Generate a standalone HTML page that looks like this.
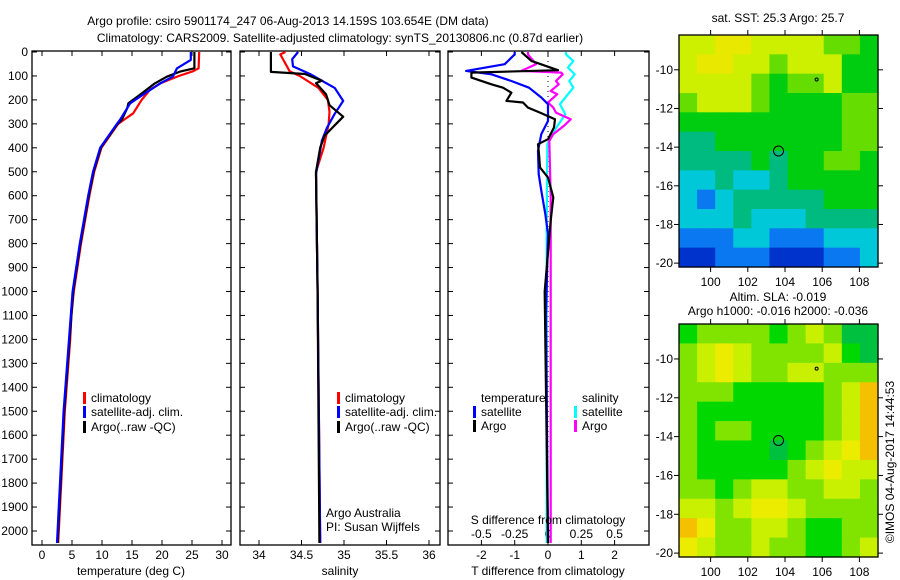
<!DOCTYPE html>
<html><head><meta charset="utf-8"><style>
html,body{margin:0;padding:0;background:#fff;}
svg{display:block;font-family:"Liberation Sans",sans-serif;font-size:12px;}
</style></head><body>
<svg id="chart" width="900" height="580" viewBox="0 0 900 580" xmlns="http://www.w3.org/2000/svg">
<rect width="900" height="580" fill="#fff"/>
<text x="288" y="25" text-anchor="middle">Argo profile: csiro 5901174_247 06-Aug-2013 14.159S 103.654E (DM data)</text>
<text x="340" y="42" text-anchor="middle">Climatology: CARS2009. Satellite-adjusted climatology: synTS_20130806.nc (0.87d earlier)</text>
<g id="g1"></g>
<g id="g2"></g>
<g id="g3"></g>
<g id="m1"></g>
<g id="m2"></g>
<text x="778" y="22" text-anchor="middle">sat. SST: 25.3 Argo: 25.7</text>
<text x="778" y="301" text-anchor="middle">Altim. SLA: -0.019</text>
<text x="778" y="315" text-anchor="middle">Argo h1000: -0.016 h2000: -0.036</text>
<text x="0" y="0" transform="translate(894,462) rotate(-90)" text-anchor="middle">©IMOS 04-Aug-2017 14:44:53</text>
<text x="326" y="517">Argo Australia</text>
<text x="326" y="531">PI: Susan Wijffels</text>
</svg>
<script>
// ---- data ----
const depthTicks=[0,100,200,300,400,500,600,700,800,900,1000,1100,1200,1300,1400,1500,1600,1700,1800,1900,2000];
const tempTicks=[0,5,10,15,20,25,30];
const salTicks=[34,34.5,35,35.5,36];
const salTickLabels=["34","34.5","35","35.5","36"];
const tdiffTicks=[-2,-1,0,1,2];
const sdiffTicks=[-0.5,-0.25,0,0.25,0.5];
const sdiffTickLabels=["-0.5","-0.25","0","0.25","0.5"];
const tClimD=[0,68,80,100,130,158,200,256,300,400,500,600,700,800,900,1000,1100,1200,1500,1800,2050];
const tClimV=[26.2,26.1,25.2,22.8,19.8,18,16.6,15.2,12.7,9.9,8.7,7.9,7.2,6.5,5.9,5.3,4.9,4.7,3.8,3.2,2.7];
const tSatD=[0,33,68,103,131,172,214,283,300,400,500,600,700,800,900,1000,1100,1200,1500,1800,2050];
const tSatV=[24.8,24.8,22.5,21.8,19.7,17.2,14.7,13,12.5,9.7,8.5,7.7,7.0,6.3,5.7,5.1,4.8,4.5,3.6,3.0,2.5];
const tArgoD=[0,68,82,103,131,179,214,235,283,300,400,500,600,700,800,900,1000,1100,1200,1500,1800,2050];
const tArgoV=[25.4,25.4,23,20.8,18.8,16.3,14.4,14.2,13.3,12.6,9.8,8.6,7.8,7.1,6.4,5.8,5.2,4.9,4.6,3.7,3.1,2.6];
const sClimD=[0,10,80,100,150,200,250,300,400,500,1000,2050];
const sClimV=[34.31,34.25,34.36,34.48,34.7,34.81,34.83,34.82,34.76,34.67,34.69,34.72];
const sSatD=[0,30,60,92,150,204,258,316,370,510,1000,2050];
const sSatV=[34.46,34.39,34.4,34.6,34.89,34.99,34.89,34.8,34.74,34.67,34.69,34.72];
const sArgoD=[0,83,92,120,130,177,222,270,306,350,400,500,1000,2050];
const sArgoV=[34.14,34.14,34.54,34.74,34.67,34.79,34.83,34.99,34.89,34.77,34.72,34.67,34.69,34.71];
const dTSatD=[0,10,51,79,93,121,149,190,218,288,343,413,510,579,676,760,1100,2050];
const dTSatV=[-1.0,-1.0,-1.3,-2.46,-1.7,-1.1,-0.57,-0.2,0,0,-0.2,-0.3,-0.28,-0.2,-0.08,0,-0.06,0];
const dTArgoD=[0,37,76,86,107,135,149,170,204,211,232,253,281,315,364,385,426,482,524,607,704,1000,2050];
const dTArgoV=[-0.8,-0.5,0.3,-2.3,-2.3,-1.7,-1.35,-1.1,-1.25,-0.75,-0.6,-0.24,0.21,0.18,0,-0.3,-0.27,-0.24,0,0.16,0.08,-0.1,0];
const dSSatD=[0,10,37,65,93,121,149,190,218,260,301,343,385,700,2050];
const dSSatV=[0.135,0.135,0.19,0.15,0.2,0.16,0.19,0.13,0.09,0.13,0.08,0.03,-0.005,-0.01,-0.01];
const dSArgoD=[0,10,51,79,86,93,121,135,163,176,211,232,253,281,308,343,371,600,2050];
const dSArgoV=[-0.15,-0.15,-0.09,-0.2,0.1,0.11,0.06,0.08,0.02,0.07,0,0.04,0.06,0.17,0.12,0.04,0.01,0.02,0.02];
const sstGrid=["yyooyyyyllg","yooyylyyygg","yyyylgllygg","lyyylggggll","gggggggggll","ttgggggggll","ttttgtggllg","cctcctggggg","cbctttttggg","ccctccctttt","bbbccbbbccc","BBbbbBBBbbc"];
const slaGrid=["gllllglylGG","lyYyllllygG","lyYyllyylll","lllggggglyo","lggggggglyo","lgllgggglyo","lggggGglyYo","lggggglyYyy","llglyyllyyl","yylyYYyllll","oYllyylggll","Yyllyllggly"];
const sstColors={B:"#0033cc",b:"#0a78f0",c:"#00c8d8",t:"#00bb80",g:"#00cc10",l:"#66dd00",y:"#ccf000",o:"#e8e800"};
const slaColors={g:"#00d800",G:"#00c040",l:"#80e400",y:"#c8f000",Y:"#ecec00",o:"#f4c000"};
const argoPos=[103.65,-14.2];
const otherPos=[105.7,-10.5];
const latTicks=[-10,-12,-14,-16,-18,-20];
const lonTicks=[100,102,104,106,108];

// ---- helpers ----
const NS="http://www.w3.org/2000/svg";
function el(parent,tag,attrs,text){const e=document.createElementNS(NS,tag);for(const k in attrs)e.setAttribute(k,attrs[k]);if(text!==undefined)e.textContent=text;parent.appendChild(e);return e;}
const yD=d=>52+0.2395*d;
const xT=t=>42+6*t;
const xS=s=>259+85*(s-34);
const xDT=t=>548+33.3*t;
const xDS=s=>548+133.3*s;
const TOP=51,BOT=545;

function frame(g,x0,x1,name,labelDepth){
  const r=el(g,"rect",{x:x0,y:TOP,width:x1-x0,height:BOT-TOP,fill:"none",stroke:"#000","stroke-width":1.3});
  
  
  depthTicks.forEach(d=>{
    const t1=el(g,"line",{x1:x0,x2:x0+5,y1:yD(d),y2:yD(d),stroke:"#000"});
    
    
    const t2=el(g,"line",{x1:x1-5,x2:x1,y1:yD(d),y2:yD(d),stroke:"#000"});
    
    
    if(labelDepth){
      const lb=el(g,"text",{x:x0-4,y:yD(d)+4,"text-anchor":"end"},String(d));
      
      
    }
  });
}
function xticks(g,vals,labels,fx,ly,name){
  vals.forEach((v,i)=>{
    const x=fx(v);
    const a=el(g,"line",{x1:x,x2:x,y1:BOT-5,y2:BOT,stroke:"#000"});
    
    
    const b=el(g,"line",{x1:x,x2:x,y1:TOP,y2:TOP+5,stroke:"#000"});
    
    
    const t=el(g,"text",{x:x,y:ly,"text-anchor":"middle"},labels[i]);
    
    
  });
}
function line(g,D,V,fx,color,name){
  const pts=D.map((d,i)=>fx(V[i]).toFixed(1)+","+yD(d).toFixed(1)).join(" ");
  const p=el(g,"polyline",{points:pts,fill:"none",stroke:color,"stroke-width":2.2,"stroke-linejoin":"round"});
  
  
}
function legend(g,x,y,color,text,name){
  if(color){const m=el(g,"rect",{x:x-8,y:y-10,width:3,height:12,fill:color});
    
    }
  const t=el(g,"text",{x:x,y:y},text);
  
  
}

// ---- panel 1 ----
const g1=document.getElementById("g1");
frame(g1,32,231,"temperature-panel",true);
xticks(g1,tempTicks,tempTicks.map(String),xT,559,"temperature");
line(g1,tClimD,tClimV,xT,"#ff0000","temperature-climatology-line");
line(g1,tArgoD,tArgoV,xT,"#000000","temperature-argo-line");
line(g1,tSatD,tSatV,xT,"#0000ff","temperature-satellite-line");
legend(g1,91,402,"#ff0000","climatology","legend-climatology");
legend(g1,91,416,"#0000ff","satellite-adj. clim.","legend-satellite");
legend(g1,91,431,"#000000","Argo(..raw -QC)","legend-argo");
{const t=el(g1,"text",{x:131,y:575,"text-anchor":"middle"},"temperature (deg C)");

}

// ---- panel 2 ----
const g2=document.getElementById("g2");
frame(g2,240,440,"salinity-panel",false);
xticks(g2,salTicks,salTickLabels,xS,559,"salinity");
line(g2,sClimD,sClimV,xS,"#ff0000","salinity-climatology-line");
line(g2,sSatD,sSatV,xS,"#0000ff","salinity-satellite-line");
line(g2,sArgoD,sArgoV,xS,"#000000","salinity-argo-line");
legend(g2,345,402,"#ff0000","climatology","legend-climatology");
legend(g2,345,416,"#0000ff","satellite-adj. clim.","legend-satellite");
legend(g2,345,431,"#000000","Argo(..raw -QC)","legend-argo");
{const t=el(g2,"text",{x:340,y:575,"text-anchor":"middle"},"salinity");

}

// ---- panel 3 ----
const g3=document.getElementById("g3");
frame(g3,448,649,"difference-panel",false);
xticks(g3,tdiffTicks,tdiffTicks.map(String),xDT,559,"t-difference");
sdiffTicks.forEach((v,i)=>{
  const t=el(g3,"text",{x:xDS(v),y:538,"text-anchor":"middle"},sdiffTickLabels[i]);
  
  
});
{const z=el(g3,"line",{x1:548,x2:548,y1:TOP,y2:BOT,stroke:"#000","stroke-dasharray":"1,4"});

}
line(g3,dSSatD,dSSatV,xDS,"#00ffff","s-diff-satellite-line");
line(g3,dSArgoD,dSArgoV,xDS,"#ff00ff","s-diff-argo-line");
line(g3,dTSatD,dTSatV,xDT,"#0000ff","t-diff-satellite-line");
line(g3,dTArgoD,dTArgoV,xDT,"#000000","t-diff-argo-line");
legend(g3,481,402,null,"temperature","legend-temperature-heading");
legend(g3,481,416,"#0000ff","satellite","legend-t-satellite");
legend(g3,481,430,"#000000","Argo","legend-t-argo");
legend(g3,582,402,null,"salinity","legend-salinity-heading");
legend(g3,582,416,"#00ffff","satellite","legend-s-satellite");
legend(g3,582,430,"#ff00ff","Argo","legend-s-argo");
{const t=el(g3,"text",{x:548,y:524,"text-anchor":"middle"},"S difference from climatology");


const t2=el(g3,"text",{x:548,y:575,"text-anchor":"middle"},"T difference from climatology");

}

// ---- maps ----
const LON0=98.3,LON1=109,LAT0=-8.2,LAT1=-20.2;
function map(id,grid,colors,yTop,yBot,name){
  const g=document.getElementById(id);
  const X0=679,X1=878;
  const fx=lon=>X0+(lon-LON0)/(LON1-LON0)*(X1-X0);
  const fy=lat=>yTop+(LAT0-lat)/(LAT0-LAT1)*(yBot-yTop);
  const rows=grid.length,cols=grid[0].length;
  const cw=(X1-X0)/cols,ch=(yBot-yTop)/rows;
  grid.forEach((row,r)=>{for(let c=0;c<cols;c++){
    const cell=el(g,"rect",{x:(X0+c*cw).toFixed(2),y:(yTop+r*ch).toFixed(2),width:(cw+0.6).toFixed(2),height:(ch+0.6).toFixed(2),fill:colors[row[c]]||"#00cc10"});
    
    
  }});
  const fr=el(g,"rect",{x:X0,y:yTop,width:X1-X0,height:yBot-yTop,fill:"none",stroke:"#000","stroke-width":1.3});
  
  
  latTicks.forEach(l=>{
    const y=fy(l);
    const tk=el(g,"line",{x1:X0-5,x2:X0,y1:y,y2:y,stroke:"#000"});
    
    
    const tk2=el(g,"line",{x1:X1,x2:X1+5,y1:y,y2:y,stroke:"#000"});
    
    
    const t=el(g,"text",{x:X0-6,y:y+4,"text-anchor":"end"},String(l));
    
    
  });
  lonTicks.forEach(l=>{
    const x=fx(l);
    const tk=el(g,"line",{x1:x,x2:x,y1:yTop-5,y2:yTop,stroke:"#000"});
    
    
    const tk2=el(g,"line",{x1:x,x2:x,y1:yBot,y2:yBot+5,stroke:"#000"});
    
    
    const t=el(g,"text",{x:x,y:yBot+19,"text-anchor":"middle"},String(l));
    
    
  });
  const c1=el(g,"circle",{cx:fx(argoPos[0]),cy:fy(argoPos[1]),r:5,fill:"none",stroke:"#000"});
  
  
  const c2=el(g,"circle",{cx:fx(otherPos[0]),cy:fy(otherPos[1]),r:1.5,fill:"none",stroke:"#000"});
  
  
}
map("m1",sstGrid,sstColors,35,267,"sst-map");
map("m2",slaGrid,slaColors,324,557,"sla-map");
</script>
</body></html>
